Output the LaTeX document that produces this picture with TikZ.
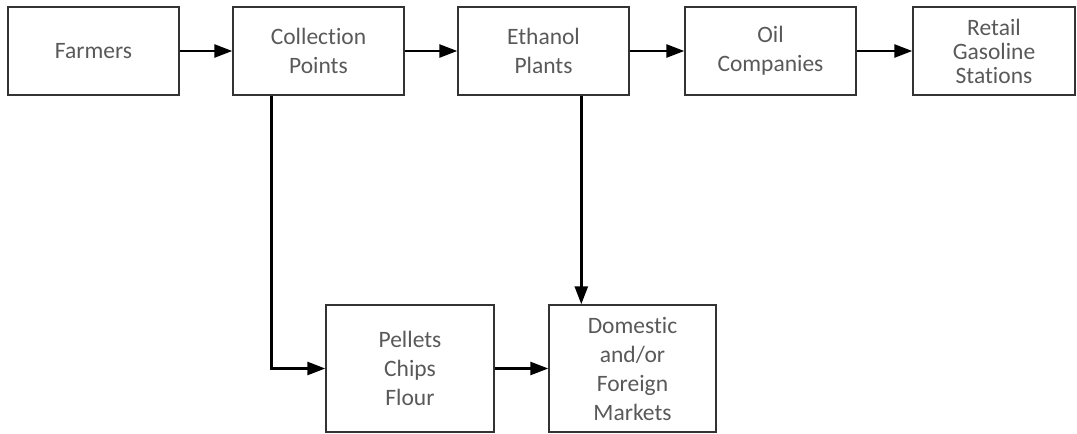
\documentclass[tikz,border=0pt]{standalone}
\usepackage{fontspec}
\setmainfont{Carlito}[Ligatures=NoCommon]
\usetikzlibrary{arrows.meta}
\begin{document}
\begin{tikzpicture}[x=1pt,y=-1pt,
  every node/.style={font=\fontsize{23.5}{29}\selectfont,text=black!65},
  stage/.style={draw=black!80,line width=1.4pt,inner sep=0pt,minimum width=171pt,minimum height=88pt,align=center},
  market/.style={stage,minimum width=168pt,minimum height=127pt},
  flow/.style={-{Triangle[length=18pt,width=13pt]},line width=2.6pt,black}]
  \useasboundingbox (0,0) rectangle (1077,434);
  % top row
  \node[stage] (farmers) at (93.5,51) {Farmers};
  \node[stage] (collect) at (318.5,51) {Collection\\Points};
  \node[stage] (ethanol) at (543.5,51) {Ethanol\\Plants};
  \node[stage] (oil) at (770.5,51) {Oil\\Companies};
  \node[stage,minimum width=162pt,font=\fontsize{23.5}{24}\selectfont] (retail) at (994,51) {Retail\\Gasoline\\Stations};
  % bottom row
  \node[market] (pellets) at (410,368.5) {Pellets\\Chips\\Flour};
  \node[market,minimum width=167pt] (markets) at (632.5,368.5) {Domestic\\and/or\\Foreign\\Markets};
  \draw[flow] (farmers) -- (collect);
  \draw[flow] (collect) -- (ethanol);
  \draw[flow] (ethanol) -- (oil);
  \draw[flow] (oil) -- (retail);
  \draw[flow] ([xshift=39pt]collect.south west) |- (pellets.west);
  \draw[flow] (pellets) -- (markets);
  \draw[flow] ([xshift=124pt]ethanol.south west) -- ([xshift=33pt]markets.north west);
\end{tikzpicture}
\end{document}
